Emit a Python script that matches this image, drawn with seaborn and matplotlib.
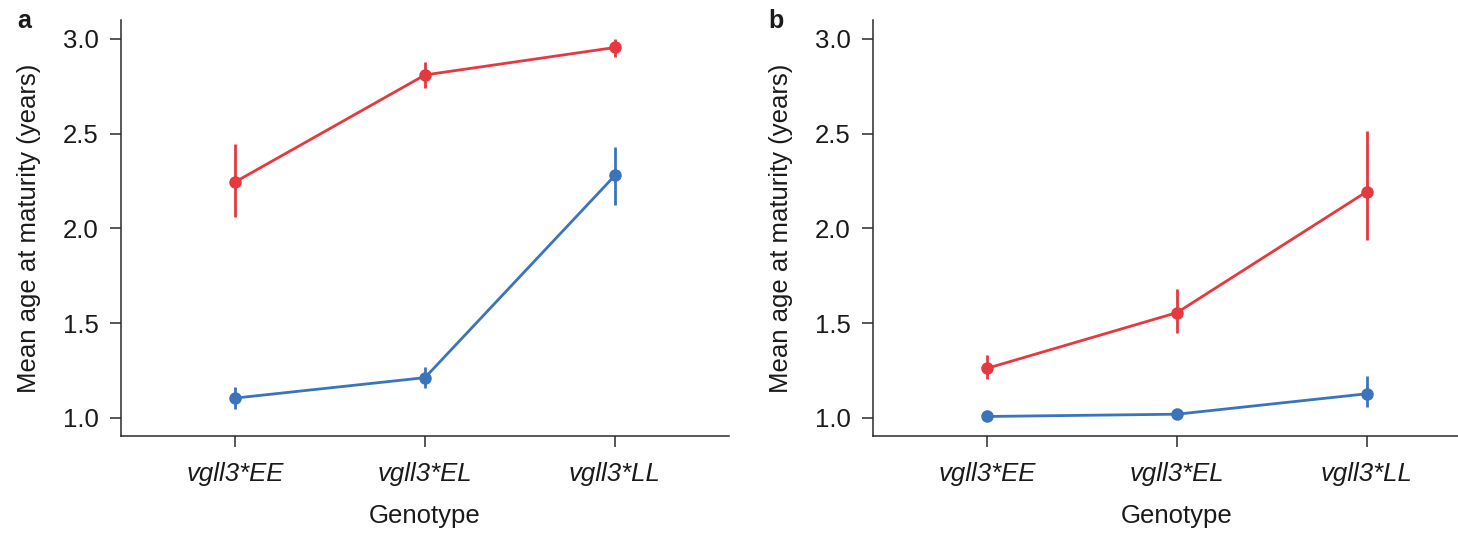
import matplotlib
matplotlib.use("Agg")
import matplotlib.pyplot as plt
import seaborn as sns
import pandas as pd
import numpy as np

genotypes = ["vgll3*EE", "vgll3*EL", "vgll3*LL"]
groups = ["Female", "Male"]

# Panel a
a_female_mean = [2.245, 2.81, 2.955]
a_female_lo = [2.06, 2.74, 2.905]
a_female_hi = [2.445, 2.88, 3.0]
a_male_mean = [1.105, 1.213, 2.28]
a_male_lo = [1.05, 1.156, 2.122]
a_male_hi = [1.166, 1.27, 2.432]

# Panel b
b_female_mean = [1.262, 1.556, 2.195]
b_female_lo = [1.204, 1.447, 1.937]
b_female_hi = [1.332, 1.68, 2.516]
b_male_mean = [1.008, 1.02, 1.128]
b_male_lo = [1.0, 1.004, 1.056]
b_male_hi = [1.016, 1.036, 1.222]

colors = {"Female": "#E5393F", "Male": "#3B74BB"}

sns.set_theme(style="ticks")
plt.rcParams["font.family"] = ["Liberation Sans", "DejaVu Sans"]
text_col = "#1a1a1a"
plt.rcParams["text.color"] = text_col
plt.rcParams["axes.labelcolor"] = text_col
plt.rcParams["xtick.color"] = "#2a2a2a"
plt.rcParams["ytick.color"] = "#2a2a2a"
plt.rcParams["xtick.labelcolor"] = text_col
plt.rcParams["ytick.labelcolor"] = text_col

fig = plt.figure(figsize=(14.58, 5.33), dpi=100)
W, H = 1458, 533
FS = 18.5

def make_df(fm, fl, fh, mm, ml, mh):
    rows = []
    for g, m, l, h in [("Female", fm, fl, fh), ("Male", mm, ml, mh)]:
        for gt, mv, lv, hv in zip(genotypes, m, l, h):
            rows.append({"Genotype": gt, "group": g, "mean": mv, "lo": lv, "hi": hv})
    return pd.DataFrame(rows)

panels = [
    ("a", 121, make_df(a_female_mean, a_female_lo, a_female_hi, a_male_mean, a_male_lo, a_male_hi)),
    ("b", 873, make_df(b_female_mean, b_female_lo, b_female_hi, b_male_mean, b_male_lo, b_male_hi)),
]

top_px, bot_px = 20, 436
axw_px = 608
for letter, left_px, df in panels:
    ax = fig.add_axes([left_px / W, (H - bot_px) / H, axw_px / W, (bot_px - top_px) / H])
    for g in groups:
        sub = df[df["group"] == g]
        ax.vlines(np.arange(len(genotypes)), sub["lo"], sub["hi"], color=colors[g], lw=2.0, zorder=2)
    sns.pointplot(data=df, x="Genotype", y="mean", hue="group", hue_order=groups,
                  order=genotypes, palette=colors, errorbar=None, markers="o",
                  linestyles="-", markersize=7.5, linewidth=2.0, legend=False, ax=ax)
    ax.set_xlim(-0.6, 2.6)
    ax.set_ylim(0.905, 3.1)
    ax.set_yticks([1.0, 1.5, 2.0, 2.5, 3.0])
    ax.set_yticklabels(["1.0", "1.5", "2.0", "2.5", "3.0"])
    ax.set_xticks(range(len(genotypes)))
    ax.set_xticklabels(genotypes, fontstyle="italic")
    ax.tick_params(axis="both", labelsize=FS, length=8, width=1.1, pad=8)
    ax.tick_params(axis="x", pad=11)
    sns.despine(ax=ax)
    for s in ["left", "bottom"]:
        ax.spines[s].set_linewidth(1.1)
        ax.spines[s].set_color("#2a2a2a")
    ax.set_xlabel("Genotype", fontsize=FS, labelpad=13)
    ax.set_ylabel("Mean age at maturity (years)", fontsize=FS, labelpad=16)
    fig.text((left_px - 97) / W, 1 - 21 / H, letter, fontsize=18, fontweight="bold",
             ha="center", va="center")

fig.savefig("out.png", dpi=100)
